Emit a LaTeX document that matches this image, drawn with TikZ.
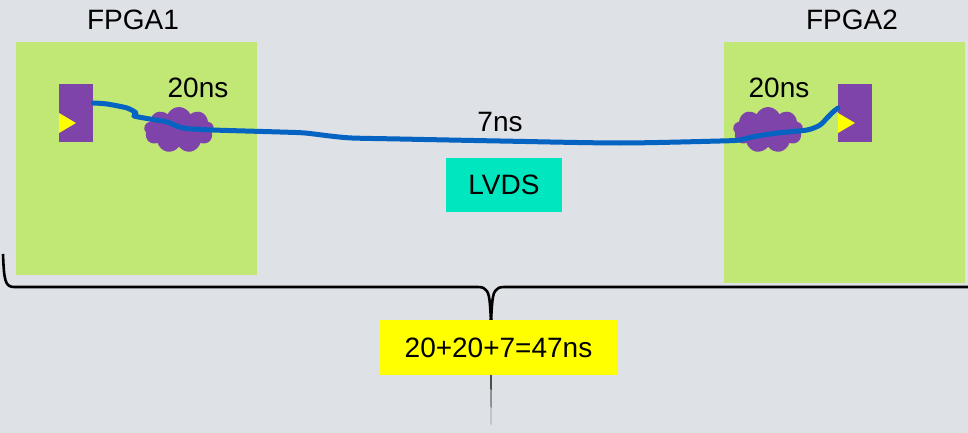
\documentclass[tikz,border=0pt]{standalone}
\usepackage{fontspec}
\setmainfont{Liberation Sans}
\usetikzlibrary{shapes.symbols}
\definecolor{bgc}{RGB}{222,225,230}
\definecolor{board}{RGB}{193,232,117}
\definecolor{chip}{RGB}{126,68,170}
\definecolor{wirec}{RGB}{5,99,193}
\definecolor{lvdsc}{RGB}{0,230,190}
\definecolor{sumc}{RGB}{255,255,0}
\tikzset{
  board/.style={fill=board, draw=none},
  chipbox/.style={fill=chip, draw=none, minimum width=34pt, minimum height=58pt, inner sep=0pt},
  delay/.style={cloud, cloud puffs=9, cloud puff arc=130, aspect=1.5, fill=chip, draw=none,
    minimum width=70pt, minimum height=46pt, inner sep=0pt},
  lbl/.style={font=\fontsize{28}{30}\selectfont, inner sep=0pt},
  tagbox/.style={draw=none, inner sep=0pt, font=\fontsize{28}{30}\selectfont},
  wire/.style={draw=wirec, line width=5pt, line cap=round, line join=round},
  brace/.style={draw=black, line width=2.6pt, line join=round},
  clk/.style={fill=sumc, draw=none}
}
\begin{document}
\begin{tikzpicture}[x=1pt, y=-1pt]
  \useasboundingbox[fill=bgc] (0,0) rectangle (968,433);

  % boards
  \node[board, minimum width=241pt, minimum height=233pt, inner sep=0pt, anchor=north west] (b1) at (16,42) {};
  \node[board, minimum width=241pt, minimum height=241pt, inner sep=0pt, anchor=north west] (b2) at (724,42) {};
  \node[lbl] (n1) at (133,20) {FPGA1};
  \node[lbl] (n2) at (852,20) {FPGA2};

  % output and input pins
  \node[chipbox, anchor=north west] (src) at (59,84) {};
  \node[chipbox, anchor=north west] (dst) at (838,84) {};
  \fill[clk] (src.west |- 0,113) -- (76,123) -- (src.west |- 0,133) -- cycle;
  \fill[clk] (dst.west |- 0,113) -- (855,123) -- (dst.west |- 0,133) -- cycle;

  % routing delay clouds
  \node[delay] (c1) at (179,130) {};
  \node[delay] (c2) at (768,130) {};
  \node[lbl] (d1) at (198,88) {20ns};
  \node[lbl] (d2) at (779,88) {20ns};

  % LVDS link
  \coordinate (w0) at (src.east |- 0,103);
  \coordinate (w9) at (dst.west |- 0,108);
  \draw[wire] plot[smooth, tension=0.45] coordinates {
    (w0) (107,104) (127,108) (136,113) (134,116) (150,119) (167,122) (183,128)
    (213,130) (280,132) (305,133) (330,136) (352,138) (400,139) (500,141)
    (620,143) (720,141) (740,140) (752,137) (777,133) (807,130) (820,125)
    (827,118) (833,112) (w9)};
  \node[lbl] (t7) at (500,122) {7ns};
  \node[tagbox, fill=lvdsc, minimum width=116pt, minimum height=54pt] (lv) at (504,185) {LVDS};

  % total delay brace
  \coordinate (bl) at (3,254);
  \coordinate (bm) at (491,320);
  \coordinate (br) at (975,287);
  \draw[brace] (bl) .. controls (4,280) and (5,287) .. (14,287) -- (478,287)
      .. controls (487,287) and (489,292) .. (490,305) -- (bm);
  \draw[brace] (bm) -- (492,305) .. controls (493,292) and (495,287) .. (504,287) -- (br);
  \fill[black] (489.5,318) -- (491,425) -- (492.5,318) -- cycle;
  \node[tagbox, fill=sumc, minimum width=237pt, minimum height=55pt] (sum) at (498.5,347.5) {20+20+7=47ns};
\end{tikzpicture}
\end{document}
